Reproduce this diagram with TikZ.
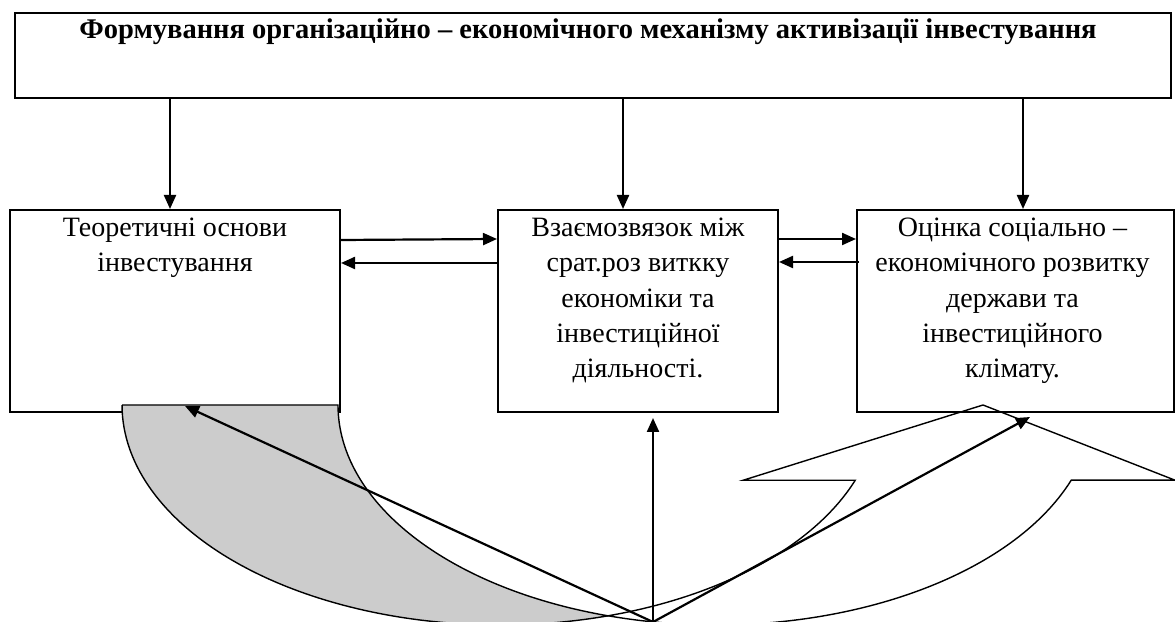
\documentclass[tikz,border=0pt]{standalone}
\usepackage{fontspec}
\setmainfont{Liberation Serif}
\usetikzlibrary{positioning,arrows.meta}

\begin{document}
\begin{tikzpicture}[
  x=1pt, y=1pt,
  blok/.style={draw=black, line width=2pt, inner sep=0pt, anchor=north west},
  napis/.style={align=center, inner sep=0pt, font=\fontsize{28}{35.2}\selectfont},
  zagolovok/.style={inner sep=0pt, font=\bfseries\fontsize{28.5}{32}\selectfont},
  strilka/.style={draw=black, line width=2.2pt, -{Triangle[length=14pt,width=12pt]}},
  kontur/.style={draw=black, line width=1.4pt, line join=miter}
]
\useasboundingbox (0,0) rectangle (1175,621);

%--------------------------------------------------------------
% Верхній блок
%--------------------------------------------------------------
\node[blok, minimum width=1156pt, minimum height=85pt] (golov) at (14,609) {};
\node[zagolovok, below=7pt of golov.north, xshift=-5pt] (golovtxt)
  {Формування організаційно – економічного механізму активізації інвестування};

%--------------------------------------------------------------
% Три блоки
%--------------------------------------------------------------
\node[blok, minimum width=330pt, minimum height=202pt] (teor) at (9,412) {};
\node[blok, minimum width=280pt, minimum height=202pt] (vzaem) at (497,412) {};
\node[blok, minimum width=317pt, minimum height=202pt] (ocinka) at (856,412) {};

\node[napis, below=9pt of teor.north] (teortxt)
  {Теоретичні основи\\інвестування};
\node[napis, below=9pt of vzaem.north] (vzaemtxt)
  {Взаємозвязок між\\срат.роз виткку\\економіки та\\інвестиційної\\діяльності.};
\node[napis, below=9pt of ocinka.north, xshift=-3pt] (ocinkatxt)
  {Оцінка соціально –\\економічного розвитку\\держави та\\інвестиційного\\клімату.};

% стрілки від верхнього блоку
\draw[strilka] ([xshift=-5pt]teor.north |- golov.south) -- ([xshift=-5pt]teor.north);
\draw[strilka] ([xshift=-15pt]vzaem.north |- golov.south) -- ([xshift=-15pt]vzaem.north);
\draw[strilka] ([xshift=7.5pt]ocinka.north |- golov.south) -- ([xshift=7.5pt]ocinka.north);

% зв'язки між блоками
\draw[strilka] ([yshift=-31pt]teor.north east) -- ([yshift=-30pt]vzaem.north west);
\draw[strilka] ([yshift=-54pt]vzaem.north west) -- ([yshift=-54pt]teor.north east);
\draw[strilka] ([yshift=-30pt]vzaem.north east) -- ([yshift=-30pt]ocinka.north west);
\draw[strilka] ([xshift=3pt,yshift=-53pt]ocinka.north west) -- ([yshift=-53pt]vzaem.north east);

%--------------------------------------------------------------
% Вигнута стрілка (обрізана знизу)
%--------------------------------------------------------------
\coordinate (peretyn) at (608,5.2);
\begin{scope}
  \clip (0,0) rectangle (1175,621);
  \filldraw[kontur, fill=black!20] (122,216) -- (338,216)
    arc[start angle=180, end angle=253.4, x radius=378pt, y radius=220pt]
    arc[start angle=286.6, end angle=180, x radius=378pt, y radius=220pt] -- cycle;
  \draw[kontur] (peretyn)
    arc[start angle=286.6, end angle=340, x radius=378pt, y radius=220pt]
    -- ++(-112,0) -- (983,216) -- (1175,140.8) -- (1071.2,140.8)
    arc[start angle=340, end angle=253.4, x radius=378pt, y radius=220pt] -- cycle;
\end{scope}

% стрілки знизу
\coordinate (dzherelo) at (653,-1);
\coordinate (cilteor) at (185,215);
\coordinate (cilvzaem) at (653,203);
\coordinate (cilocinka) at (1030,204);
\draw[strilka] (dzherelo) -- (cilteor);
\draw[strilka] (dzherelo) -- (cilvzaem);
\draw[strilka] (dzherelo) -- (cilocinka);

\end{tikzpicture}
\end{document}
